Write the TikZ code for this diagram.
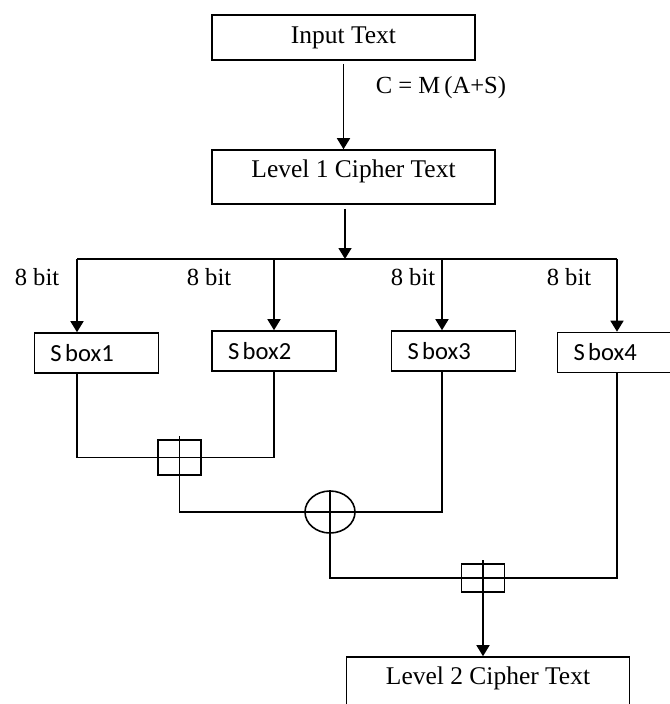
\documentclass[tikz,border=0pt]{standalone}
\usepackage{fontspec}
\setmainfont{Liberation Serif}
\newfontfamily\sboxfont{Carlito}
\usetikzlibrary{arrows.meta,positioning,calc,shapes.geometric}

\begin{document}
\begin{tikzpicture}[
  wire/.style={line width=0.9pt},
  arr/.style={wire, -{Triangle[width=0.26cm,length=0.22cm]}},
  blk/.style={draw, line width=0.9pt, inner sep=0pt, font=\fontsize{14.5}{17}\selectfont},
  lvl/.style={blk, minimum width=5.66cm, minimum height=1.08cm,
    text height=0.32cm, text depth=0.32cm},
  sbox/.style={draw, line width=0.9pt, inner xsep=0.32cm, inner ysep=0pt,
    text width=1.84cm, align=left, minimum height=0.8cm,
    font=\sboxfont\fontsize{14}{16}\selectfont},
  mix/.style={draw, line width=0.9pt, inner sep=0pt},
  bits/.style={font=\fontsize{14}{17}\selectfont},
]
\useasboundingbox (0,0) rectangle (13.4,-14.08);

% input and first level
\node[blk, minimum width=5.26cm, minimum height=0.9cm] (inp) at (6.87,-0.75) {Input Text};
\node[lvl] (lvl1) at (7.07,-3.54) {Level 1 Cipher Text};
\node[bits] (eqn) at (8.82,-1.76) {C = M\,(A+S)};
\draw[arr, shorten <=0.06cm] (inp.south) -- (inp.south |- lvl1.north);

% split into four bytes
\coordinate (split) at (6.9,-5.18);
\coordinate (b1) at (1.54,-5.18);
\coordinate (b2) at (5.48,-5.18);
\coordinate (b3) at (8.84,-5.18);
\coordinate (b4) at (12.34,-5.18);
\draw[arr, shorten <=0.08cm] (split |- lvl1.south) -- (split);
\draw[wire] (b1) -- (b4);

\node[sbox] (sb1) at (1.93,-7.06) {S\hspace{0.14em}box1};
\node[sbox] (sb2) at (5.48,-7.02) {S\hspace{0.14em}box2};
\node[sbox] (sb3) at (9.07,-7.02) {S\hspace{0.14em}box3};
\node[sbox] (sb4) at (12.39,-7.05) {S\hspace{0.14em}box4};

\node[bits] (w1) at (0.74,-5.54) {8 bit};
\node[bits] (w2) at (4.18,-5.54) {8 bit};
\node[bits] (w3) at (8.26,-5.54) {8 bit};
\node[bits] (w4) at (11.38,-5.54) {8 bit};

\foreach \i in {1,...,4}
  \draw[arr] (b\i) -- (b\i |- sb\i.north);

% combining stages
\node[mix, minimum width=0.86cm, minimum height=0.7cm] (add1) at (3.59,-9.15) {};
\node[mix, ellipse, minimum width=1.0cm, minimum height=0.84cm] (xor) at (6.6,-10.24) {};
\node[mix, minimum width=0.86cm, minimum height=0.56cm] (add2) at (9.66,-11.56) {};
\node[lvl] (lvl2) at (9.76,-13.68) {Level 2 Cipher Text};

\draw[wire] (b1 |- sb1.south) |- (add1.center) -| (b2 |- sb2.south);
\draw[wire] ([yshift=0.06cm]add1.north) -- (add1.center) |- (xor.center) -| (b3 |- sb3.south);
\draw[wire] (xor.north) -- (xor.center) |- (add2.center) -| (b4 |- sb4.south);
\draw[arr] ([yshift=0.06cm]add2.north) -- (add2.north |- lvl2.north);
\end{tikzpicture}
\end{document}
